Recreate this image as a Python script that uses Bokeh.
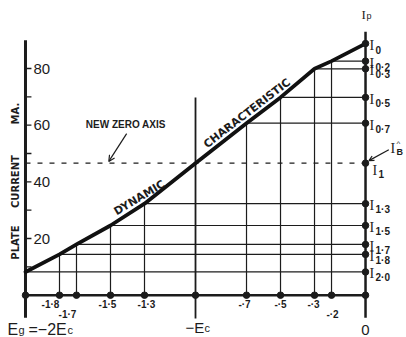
from bokeh.plotting import figure
from bokeh.models import Arrow, OpenHead, Range1d
from bokeh.core.properties import value
from bokeh.embed import file_html
from bokeh.resources import INLINE

ec_ratio = [2.0, 1.8, 1.7, 1.5, 1.3, 1.0, 0.7, 0.5, 0.3, 0.2, 0.0]
plate_ma = [8.2, 14.4, 17.9, 24.6, 32.3, 46.6, 60.7, 69.8, 79.9, 82.6, 88.8]
grid_labels = ["", "-1·8", "-1·7", "-1·5", "-1·3", "", "-·7", "-·5", "-·3", "-·2", ""]
current_subs = ["2·0", "1·8", "1·7", "1·5", "1·3", "1", "0·7", "0·5", "0·3", "0·2", "0"]
ma_ticks = [10, 20, 30, 40, 50, 60, 70, 80]
ma_labels = ["", "20", "", "40", "", "60", "", "80"]

grid_volts = [-r for r in ec_ratio]
n = len(ec_ratio)
i_zero = ec_ratio.index(1.0)
ib = plate_ma[i_zero]

# label placement (styling only)
label_dx = [0, -9, -9, -3, 2, 0, -2, 0, -1, 1, 0]
label_low = [False, False, True, False, False, False, False, False, False, True, False]

INK = "#1c1c1c"
SANS = value("Liberation Sans")
BOLD = value("DejaVu Sans")
SERIF = value("Liberation Serif")

p = figure(width=406, height=337, x_range=Range1d(-2.147, 0.241), y_range=Range1d(-14.93, 104.0),
           output_backend="svg", toolbar_location=None, x_axis_type=None, y_axis_type=None,
           min_border=0, min_border_left=0, min_border_right=0, min_border_top=0, min_border_bottom=0,
           outline_line_color=None, background_fill_color="white", border_fill_color="white")
p.grid.visible = False

# horizontal construction lines (curve point -> Ip axis)
hx0 = [grid_volts[i] for i in range(n) if ec_ratio[i] not in (1.0, 0.0)]
hy = [plate_ma[i] for i in range(n) if ec_ratio[i] not in (1.0, 0.0)]
p.segment(x0=hx0, y0=hy, x1=[0] * len(hx0), y1=hy, line_color=INK, line_width=1.2)

# vertical construction lines (grid axis -> curve point)
vx = [grid_volts[i] for i in range(n) if ec_ratio[i] not in (2.0, 1.0, 0.0)]
vy = [plate_ma[i] for i in range(n) if ec_ratio[i] not in (2.0, 1.0, 0.0)]
p.segment(x0=vx, y0=[0] * len(vx), x1=vx, y1=vy, line_color=INK, line_width=1.2)

# new zero axis (dashed)
p.segment(x0=[-2], y0=[ib], x1=[0], y1=[ib], line_color=INK, line_width=1.2, line_dash="5 7")

# -Ec line
p.segment(x0=[-1], y0=[-8.2], x1=[-1], y1=[plate_ma[ec_ratio.index(0.5)]], line_color=INK, line_width=1.8)

# axes
p.segment(x0=[-2], y0=[-8], x1=[-2], y1=[90], line_color=INK, line_width=3)
p.segment(x0=[0], y0=[-8], x1=[0], y1=[93], line_color=INK, line_width=2.5)
p.segment(x0=[-2], y0=[0], x1=[0], y1=[0], line_color=INK, line_width=2.6)

# left ticks and labels
p.segment(x0=[-2] * len(ma_ticks), y0=ma_ticks, x1=[-1.965] * len(ma_ticks), y1=ma_ticks,
          line_color=INK, line_width=1.3)
p.text(x=[-2] * len(ma_ticks), y=ma_ticks, text=ma_labels, x_offset=8, text_align="left",
       text_baseline="middle", text_font=SANS, text_font_size="15px", text_color=INK)

# dynamic characteristic
p.line(grid_volts, plate_ma, line_color="#111111", line_width=3.8, line_join="round", line_cap="round")

# dots
p.scatter(grid_volts, [0] * n, size=6.5, color=INK)
p.scatter([0] * n, plate_ma, size=6.5, color=INK)

# grid labels
idx = [i for i in range(n) if grid_labels[i]]
p.text(x=[grid_volts[i] for i in idx], y=[-6.7 if label_low[i] else -3.3 for i in idx],
       text=[grid_labels[i] for i in idx], x_offset=[label_dx[i] for i in idx],
       text_align="center", text_baseline="middle", text_font=SANS, text_font_style="bold",
       text_font_size="10px", text_color=INK)

# current labels on the Ip axis
i_dx = [7 if i == i_zero else 4 for i in range(n)]
i_dy = [7 if i == i_zero else 2 for i in range(n)]
p.text(x=[0] * n, y=plate_ma, text=["I"] * n, x_offset=i_dx, y_offset=i_dy, text_align="left",
       text_baseline="middle", text_font=SERIF, text_font_size="14px", text_color=INK)
p.text(x=[0] * n, y=plate_ma, text=current_subs, x_offset=[d + 6 for d in i_dx],
       y_offset=[d + 4 for d in i_dy], text_align="left",
       text_baseline="middle", text_font=SANS, text_font_style="bold", text_font_size="10px", text_color=INK)

# Ip title
p.text(x=[0], y=[99.1], text=["I"], x_offset=-4, text_align="left", text_baseline="middle",
       text_font=SERIF, text_font_size="13px", text_color=INK)
p.text(x=[0], y=[99.1], text=["p"], x_offset=1, y_offset=2, text_align="left", text_baseline="middle",
       text_font=SANS, text_font_size="9px", text_color=INK)

# I_B label + arrow
p.text(x=[0], y=[ib], text=["I"], x_offset=25, y_offset=-15, text_align="left", text_baseline="middle",
       text_font=SERIF, text_font_size="14px", text_color=INK)
p.text(x=[0], y=[ib], text=["B"], x_offset=31, y_offset=-11, text_align="left", text_baseline="middle",
       text_font=SANS, text_font_style="bold", text_font_size="9px", text_color=INK)
p.text(x=[0], y=[ib], text=["^"], x_offset=31, y_offset=-20, text_align="left", text_baseline="middle",
       text_font=SANS, text_font_size="8px", text_color=INK)
p.add_layout(Arrow(end=OpenHead(size=5, line_width=1.2, line_color=INK), x_start=0.137, y_start=ib + 4.7,
                   x_end=0.02, y_end=ib + 0.9, line_width=1.2, line_color=INK))

# NEW ZERO AXIS
p.text(x=[-1.41], y=[60.3], text=["NEW ZERO AXIS"], text_align="center", text_baseline="middle",
       text_font=SANS, text_font_style="bold", text_font_size="10px", text_color=INK)
p.add_layout(Arrow(end=OpenHead(size=6, line_width=1.2, line_color=INK), x_start=-1.405, y_start=57.0,
                   x_end=-1.51, y_end=ib + 0.6, line_width=1.2, line_color=INK))

# curve captions
p.text(x=[-1.33], y=[34.4], text=["DYNAMIC"], angle=31, angle_units="deg", text_align="center",
       text_baseline="middle", text_font=BOLD, text_font_style="bold", text_font_size="11px", text_color=INK)
p.text(x=[-0.697], y=[64.2], text=["CHARACTERISTIC"], angle=37.6, angle_units="deg", text_align="center",
       text_baseline="middle", text_font=BOLD, text_font_style="bold", text_font_size="11px", text_color=INK)

# y title (three words, widely spaced)
p.text(x=[-2] * 3, y=[18.6, 40.1, 64.1], text=["PLATE", "CURRENT", "MA."], x_offset=-10, angle=90,
       angle_units="deg", text_align="center", text_baseline="middle", text_font=BOLD,
       text_font_style="bold", text_font_size="10px", text_color=INK)

# bottom labels
p.text(x=[-2], y=[-12.0], text=["E"], x_offset=-18, text_align="left", text_baseline="alphabetic",
       text_font=SANS, text_font_size="16px", text_color=INK)
p.text(x=[-2], y=[-12.0], text=["g"], x_offset=-7, y_offset=1, text_align="left", text_baseline="alphabetic",
       text_font=SANS, text_font_size="11px", text_color=INK)
p.text(x=[-2], y=[-12.0], text=["=−2E"], x_offset=3, text_align="left", text_baseline="alphabetic",
       text_font=SANS, text_font_size="16px", text_color=INK)
p.text(x=[-2], y=[-12.0], text=["c"], x_offset=42, y_offset=1, text_align="left", text_baseline="alphabetic",
       text_font=SANS, text_font_size="11px", text_color=INK)
p.text(x=[-1], y=[-11.4], text=["−E"], x_offset=-10, text_align="left", text_baseline="alphabetic",
       text_font=SANS, text_font_size="15px", text_color=INK)
p.text(x=[-1], y=[-11.4], text=["c"], x_offset=9, y_offset=1, text_align="left", text_baseline="alphabetic",
       text_font=SANS, text_font_size="11px", text_color=INK)
p.text(x=[0], y=[-12.4], text=["0"], text_align="center", text_baseline="alphabetic",
       text_font=SANS, text_font_size="15px", text_color=INK)

open("out.html", "w").write(file_html(p, INLINE))
